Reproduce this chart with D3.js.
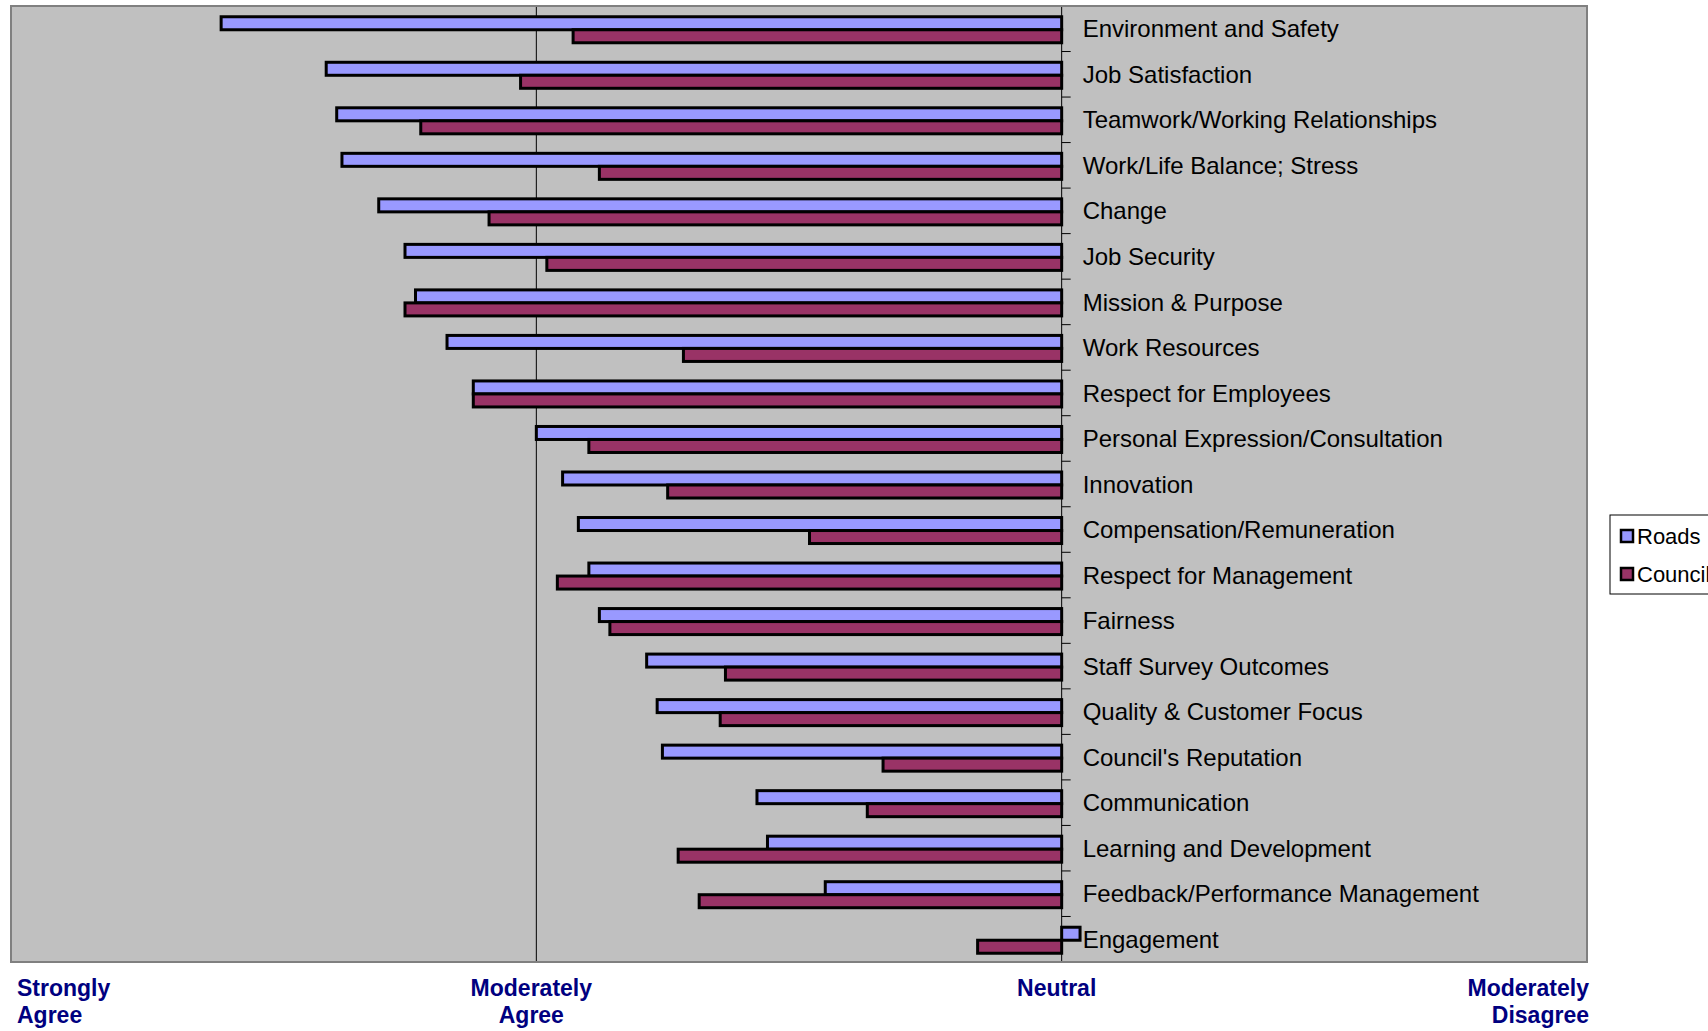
<!doctype html>
<html>
<head>
<meta charset="utf-8">
<style>
  body { margin: 0; background: #fff; }
  svg { display: block; }
  text { font-family: "Liberation Sans", Arial, sans-serif; }
</style>
<script src="https://cdn.jsdelivr.net/npm/d3@7"></script>
</head>
<body>
<svg width="1708" height="1031"></svg>
<script>

// scale: 1 = Strongly Agree ... 3 = Neutral, 4 = Moderately Disagree
var categories = ["Environment and Safety", "Job Satisfaction", "Teamwork/Working Relationships",
    "Work/Life Balance; Stress", "Change", "Job Security", "Mission & Purpose", "Work Resources",
    "Respect for Employees", "Personal Expression/Consultation", "Innovation",
    "Compensation/Remuneration", "Respect for Management", "Fairness", "Staff Survey Outcomes",
    "Quality & Customer Focus", "Council's Reputation", "Communication",
    "Learning and Development", "Feedback/Performance Management", "Engagement"];

var roads   = [1.40, 1.60, 1.62, 1.63, 1.70, 1.75, 1.77, 1.83, 1.88, 2.00, 2.05,
               2.08, 2.10, 2.12, 2.21, 2.23, 2.24, 2.42, 2.44, 2.55, 3.035];
var council = [2.07, 1.97, 1.78, 2.12, 1.91, 2.02, 1.75, 2.28, 1.88, 2.10, 2.25,
               2.52, 2.04, 2.14, 2.36, 2.35, 2.66, 2.63, 2.27, 2.31, 2.84];

var series = ["Roads", "Council"];
var colors = ["#9999FF", "#993366"];

var scaleValues = [1, 2, 3, 4];
var scaleLabels = [["Strongly", "Agree"], ["Moderately", "Agree"], ["Neutral"], ["Moderately", "Disagree"]];

var neutral = 3;

var svg = d3.select("svg");
var plotL = 11, plotR = 1587, plotT = 6, plotB = 962;

var x = d3.scaleLinear().domain([1, 4]).range([plotL, plotR]);
var y = d3.scaleBand().domain(categories).range([plotT, plotB]);
var ySub = d3.scaleBand().domain(series).range([1, y.bandwidth() + 1]).paddingOuter(0.75);

// plot area
svg.append("rect")
   .attr("x", plotL).attr("y", plotT)
   .attr("width", plotR - plotL).attr("height", plotB - plotT)
   .attr("fill", "#C0C0C0");

// gridline at Moderately Agree
svg.append("line")
   .attr("x1", x(2)).attr("x2", x(2))
   .attr("y1", plotT).attr("y2", plotB)
   .attr("stroke", "#000").attr("stroke-width", 1);

// bars
var data = [];
categories.forEach(function(c, i) {
    data.push({cat: c, s: 0, v: roads[i]});
    data.push({cat: c, s: 1, v: council[i]});
});

svg.append("g").selectAll("rect")
   .data(data)
   .enter().append("rect")
   .attr("x", function(d) { return Math.min(x(d.v), x(neutral)); })
   .attr("y", function(d) { return y(d.cat) + ySub(series[d.s]); })
   .attr("width", function(d) { return Math.abs(x(d.v) - x(neutral)); })
   .attr("height", ySub.bandwidth())
   .attr("fill", function(d) { return colors[d.s]; })
   .attr("stroke", "#000")
   .attr("stroke-width", 3);

// category axis at Neutral
var axis = svg.append("g");
axis.append("line")
    .attr("x1", x(neutral)).attr("x2", x(neutral))
    .attr("y1", plotT).attr("y2", plotB)
    .attr("stroke", "#000").attr("stroke-width", 1);

axis.selectAll(".tick")
    .data(categories.map(function(c) { return y(c); }).concat([plotB]))
    .enter().append("line")
    .attr("x1", x(neutral)).attr("x2", x(neutral) + 9)
    .attr("y1", function(d) { return d; }).attr("y2", function(d) { return d; })
    .attr("stroke", "#000").attr("stroke-width", 1);

axis.selectAll(".lbl")
    .data(categories)
    .enter().append("text")
    .attr("x", x(neutral) + 21)
    .attr("y", function(d) { return y(d) + y.bandwidth() / 2; })
    .attr("dy", "0.36em")
    .attr("font-size", "24px")
    .attr("fill", "#000")
    .text(function(d) { return d; });

// plot border
svg.append("rect")
   .attr("x", plotL).attr("y", plotT)
   .attr("width", plotR - plotL).attr("height", plotB - plotT)
   .attr("fill", "none")
   .attr("stroke", "#808080").attr("stroke-width", 2);

// scale labels below
scaleValues.forEach(function(v, i) {
    var anchor = i == 0 ? "start" : (i == scaleValues.length - 1 ? "end" : "middle");
    var px = i == 0 ? x(v) + 6 : (i == scaleValues.length - 1 ? x(v) + 2 : x(v) - 5);
    var t = svg.append("text")
       .attr("text-anchor", anchor)
       .attr("font-size", "23px")
       .attr("font-weight", "bold")
       .attr("fill", "#000080");
    scaleLabels[i].forEach(function(line, j) {
        t.append("tspan")
         .attr("x", px)
         .attr("y", 996 + j * 27)
         .text(line);
    });
});

// legend
var legend = svg.append("g").attr("transform", "translate(1610,515)");
legend.append("rect")
      .attr("width", 140).attr("height", 79)
      .attr("fill", "#fff").attr("stroke", "#000").attr("stroke-width", 1);

series.forEach(function(s, i) {
    legend.append("rect")
          .attr("x", 11).attr("y", 15 + i * 38)
          .attr("width", 12).attr("height", 12)
          .attr("fill", colors[i]).attr("stroke", "#000").attr("stroke-width", 2.5);
    legend.append("text")
          .attr("x", 27).attr("y", 21 + i * 38)
          .attr("dy", "0.36em")
          .attr("font-size", "22px")
          .text(s);
});

</script>
</body>
</html>
